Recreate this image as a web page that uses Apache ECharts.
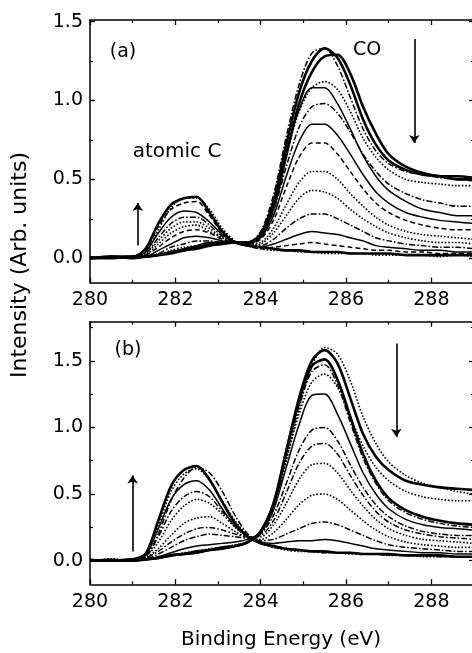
<!DOCTYPE html>
<html>
<head>
<meta charset="utf-8">
<title>C 1s XPS</title>
<script src="https://cdn.jsdelivr.net/npm/echarts@6/dist/echarts.min.js"></script>
<style>
  html, body { margin: 0; height: 100%; background: #fff; }
  #main { width: 472px; height: 653px; }
</style>
</head>
<body>
<div id="main"></div>
<script>
// binding energy grid (eV), shared by every spectrum
var energy = [280, 280.5, 281, 281.3, 281.6, 281.9, 282.2, 282.5, 282.8, 283.1, 283.4, 283.7,
  284, 284.3, 284.6, 284.9, 285.2, 285.5, 285.8, 286.1, 286.4, 286.7, 287, 287.4, 287.8, 288.2, 288.6, 289];

// panel (a): CO goes down, atomic C goes up
var a1  = [0.0, 0.01, 0.0, 0.01, 0.02, 0.04, 0.05, 0.07, 0.09, 0.1, 0.1, 0.1, 0.15, 0.36, 0.72, 1.05, 1.25, 1.33, 1.27, 1.1, 0.88, 0.72, 0.62, 0.56, 0.53, 0.52, 0.5, 0.5];
var a2  = [0.01, 0.0, 0.01, 0.01, 0.02, 0.04, 0.06, 0.07, 0.09, 0.1, 0.1, 0.1, 0.17, 0.4, 0.77, 1.1, 1.3, 1.33, 1.22, 1.02, 0.82, 0.68, 0.6, 0.55, 0.53, 0.51, 0.5, 0.49];
var a3  = [0.0, 0.0, 0.01, 0.01, 0.02, 0.03, 0.05, 0.06, 0.08, 0.09, 0.1, 0.1, 0.14, 0.32, 0.65, 0.98, 1.18, 1.28, 1.29, 1.17, 0.96, 0.79, 0.66, 0.58, 0.54, 0.52, 0.52, 0.51];
var a4  = [0.0, 0.01, 0.0, 0.01, 0.02, 0.05, 0.07, 0.08, 0.1, 0.1, 0.1, 0.1, 0.15, 0.33, 0.65, 0.93, 1.08, 1.12, 1.07, 0.93, 0.76, 0.64, 0.56, 0.5, 0.48, 0.47, 0.46, 0.46];
var a5  = [0.0, 0.0, 0.01, 0.01, 0.02, 0.04, 0.06, 0.08, 0.1, 0.1, 0.1, 0.1, 0.16, 0.35, 0.67, 0.94, 1.08, 1.08, 0.98, 0.82, 0.65, 0.52, 0.43, 0.36, 0.31, 0.29, 0.27, 0.27];
var a6  = [0.0, 0.01, 0.0, 0.01, 0.03, 0.07, 0.09, 0.11, 0.11, 0.1, 0.1, 0.09, 0.14, 0.3, 0.58, 0.83, 0.96, 0.98, 0.92, 0.8, 0.66, 0.55, 0.47, 0.41, 0.37, 0.35, 0.33, 0.33];
var a7  = [0.0, 0.0, 0.01, 0.01, 0.05, 0.09, 0.13, 0.14, 0.13, 0.11, 0.1, 0.09, 0.13, 0.27, 0.52, 0.74, 0.85, 0.85, 0.78, 0.66, 0.53, 0.42, 0.35, 0.29, 0.26, 0.24, 0.23, 0.22];
var a8  = [0.01, 0.0, 0.01, 0.02, 0.07, 0.13, 0.17, 0.18, 0.16, 0.12, 0.1, 0.09, 0.12, 0.24, 0.45, 0.64, 0.73, 0.73, 0.66, 0.55, 0.44, 0.35, 0.29, 0.24, 0.21, 0.19, 0.18, 0.18];
var a9  = [0.0, 0.01, 0.0, 0.02, 0.09, 0.16, 0.2, 0.21, 0.17, 0.13, 0.1, 0.09, 0.1, 0.19, 0.34, 0.48, 0.55, 0.55, 0.5, 0.41, 0.33, 0.26, 0.21, 0.17, 0.15, 0.14, 0.13, 0.12];
var a10 = [0.0, 0.0, 0.01, 0.03, 0.11, 0.19, 0.23, 0.23, 0.19, 0.13, 0.1, 0.08, 0.09, 0.16, 0.27, 0.38, 0.43, 0.42, 0.38, 0.31, 0.25, 0.2, 0.16, 0.13, 0.11, 0.1, 0.1, 0.09];
var a11 = [0.01, 0.0, 0.01, 0.03, 0.13, 0.22, 0.26, 0.26, 0.21, 0.14, 0.1, 0.08, 0.08, 0.12, 0.19, 0.25, 0.28, 0.28, 0.25, 0.21, 0.17, 0.13, 0.11, 0.09, 0.08, 0.07, 0.07, 0.06];
var a12 = [0.0, 0.01, 0.0, 0.04, 0.16, 0.26, 0.3, 0.29, 0.23, 0.15, 0.1, 0.08, 0.07, 0.09, 0.12, 0.15, 0.17, 0.16, 0.15, 0.13, 0.11, 0.08, 0.07, 0.06, 0.05, 0.05, 0.04, 0.04];
var a13 = [0.0, 0.0, 0.01, 0.05, 0.2, 0.31, 0.35, 0.36, 0.27, 0.16, 0.1, 0.08, 0.06, 0.07, 0.08, 0.09, 0.1, 0.09, 0.08, 0.07, 0.06, 0.05, 0.05, 0.04, 0.04, 0.03, 0.03, 0.03];
var a14 = [0.0, 0.01, 0.01, 0.06, 0.22, 0.34, 0.38, 0.39, 0.29, 0.17, 0.1, 0.08, 0.07, 0.06, 0.05, 0.05, 0.04, 0.04, 0.04, 0.03, 0.03, 0.03, 0.03, 0.02, 0.02, 0.02, 0.02, 0.02];
var a15 = [0.01, 0.0, 0.01, 0.04, 0.18, 0.32, 0.38, 0.38, 0.31, 0.19, 0.11, 0.08, 0.06, 0.05, 0.05, 0.04, 0.04, 0.03, 0.03, 0.03, 0.03, 0.02, 0.02, 0.02, 0.02, 0.01, 0.02, 0.01];

// panel (b)
var b1  = [0.0, 0.0, 0.0, 0.01, 0.02, 0.04, 0.05, 0.06, 0.08, 0.09, 0.11, 0.14, 0.22, 0.42, 0.82, 1.22, 1.5, 1.58, 1.48, 1.22, 0.95, 0.78, 0.68, 0.6, 0.57, 0.55, 0.54, 0.53];
var b2  = [0.0, 0.01, 0.0, 0.01, 0.02, 0.04, 0.05, 0.06, 0.08, 0.09, 0.11, 0.14, 0.2, 0.38, 0.75, 1.14, 1.46, 1.6, 1.55, 1.35, 1.08, 0.88, 0.74, 0.64, 0.58, 0.55, 0.52, 0.5];
var b3  = [0.0, 0.0, 0.01, 0.01, 0.02, 0.04, 0.05, 0.07, 0.08, 0.1, 0.11, 0.14, 0.22, 0.43, 0.82, 1.2, 1.46, 1.51, 1.36, 1.08, 0.8, 0.6, 0.47, 0.38, 0.33, 0.3, 0.28, 0.27];
var b4  = [0.01, 0.0, 0.0, 0.01, 0.02, 0.04, 0.05, 0.06, 0.08, 0.09, 0.11, 0.14, 0.22, 0.42, 0.8, 1.16, 1.42, 1.47, 1.32, 1.04, 0.77, 0.58, 0.45, 0.36, 0.31, 0.28, 0.26, 0.25];
var b5  = [0.0, 0.01, 0.0, 0.01, 0.02, 0.04, 0.06, 0.07, 0.09, 0.1, 0.12, 0.14, 0.21, 0.4, 0.76, 1.1, 1.34, 1.4, 1.3, 1.08, 0.86, 0.7, 0.6, 0.52, 0.48, 0.46, 0.45, 0.45];
var b6  = [0.0, 0.0, 0.0, 0.01, 0.03, 0.06, 0.09, 0.11, 0.12, 0.13, 0.14, 0.16, 0.21, 0.38, 0.7, 1.02, 1.24, 1.25, 1.1, 0.88, 0.66, 0.5, 0.39, 0.31, 0.27, 0.25, 0.24, 0.23];
var b7  = [0.0, 0.01, 0.0, 0.01, 0.05, 0.1, 0.15, 0.18, 0.2, 0.19, 0.18, 0.17, 0.2, 0.34, 0.58, 0.83, 0.98, 1.0, 0.9, 0.72, 0.55, 0.42, 0.33, 0.26, 0.22, 0.2, 0.19, 0.19];
var b8  = [0.0, 0.0, 0.01, 0.02, 0.07, 0.14, 0.2, 0.24, 0.25, 0.23, 0.2, 0.18, 0.19, 0.3, 0.51, 0.73, 0.86, 0.88, 0.8, 0.64, 0.49, 0.37, 0.29, 0.23, 0.2, 0.18, 0.17, 0.16];
var b9  = [0.01, 0.0, 0.0, 0.02, 0.09, 0.19, 0.28, 0.32, 0.33, 0.28, 0.22, 0.18, 0.18, 0.27, 0.43, 0.61, 0.72, 0.73, 0.66, 0.53, 0.41, 0.31, 0.24, 0.19, 0.16, 0.15, 0.14, 0.13];
var b10 = [0.0, 0.01, 0.0, 0.03, 0.14, 0.3, 0.41, 0.46, 0.43, 0.35, 0.25, 0.18, 0.16, 0.21, 0.31, 0.42, 0.49, 0.5, 0.46, 0.38, 0.3, 0.23, 0.18, 0.14, 0.12, 0.11, 0.1, 0.1];
var b11 = [0.0, 0.0, 0.01, 0.03, 0.18, 0.37, 0.48, 0.52, 0.48, 0.37, 0.26, 0.18, 0.15, 0.16, 0.2, 0.24, 0.28, 0.29, 0.27, 0.23, 0.19, 0.15, 0.12, 0.1, 0.09, 0.08, 0.07, 0.07];
var b12 = [0.0, 0.01, 0.0, 0.04, 0.24, 0.46, 0.57, 0.6, 0.53, 0.39, 0.26, 0.18, 0.14, 0.13, 0.14, 0.15, 0.15, 0.16, 0.15, 0.13, 0.11, 0.09, 0.08, 0.07, 0.06, 0.06, 0.05, 0.05];
var b13 = [0.0, 0.0, 0.01, 0.05, 0.3, 0.56, 0.68, 0.71, 0.61, 0.44, 0.28, 0.18, 0.13, 0.11, 0.09, 0.08, 0.07, 0.07, 0.06, 0.06, 0.05, 0.05, 0.05, 0.04, 0.04, 0.04, 0.03, 0.03];
var b14 = [0.01, 0.0, 0.0, 0.03, 0.2, 0.45, 0.62, 0.7, 0.66, 0.52, 0.34, 0.2, 0.14, 0.1, 0.09, 0.08, 0.07, 0.06, 0.06, 0.06, 0.05, 0.05, 0.04, 0.04, 0.04, 0.03, 0.03, 0.03];
var b15 = [0.0, 0.01, 0.0, 0.04, 0.26, 0.52, 0.65, 0.69, 0.6, 0.45, 0.3, 0.19, 0.13, 0.1, 0.08, 0.07, 0.07, 0.06, 0.06, 0.05, 0.05, 0.05, 0.04, 0.04, 0.03, 0.03, 0.03, 0.03];

var spectraA = [a1, a2, a3, a4, a5, a6, a7, a8, a9, a10, a11, a12, a13, a14, a15];
var spectraB = [b1, b2, b3, b4, b5, b6, b7, b8, b9, b10, b11, b12, b13, b14, b15];
var kindsA = ['thick', 'dashdot', 'thick', 'dotted', 'solid', 'dashdot', 'solid', 'dashed', 'dotted', 'dotted', 'dashdot', 'solid', 'dashed', 'thick', 'dotted'];
var kindsB = ['thick', 'dotted', 'thick', 'dashdot', 'dotted', 'solid', 'dashdot', 'dashdot', 'dotted', 'dotted', 'dashdot', 'solid', 'thick', 'dashdot', 'dotted'];

// arrows: [energy, from, to]
var arrowsA = [[281.12, 0.08, 0.35], [287.6, 1.39, 0.73]];
var arrowsB = [[281.0, 0.07, 0.64], [287.18, 1.63, 0.93]];

var xMajor = [280, 282, 284, 286, 288];
var xMinor = [281, 283, 285, 287, 289];
var yMajor = [0, 0.5, 1.0, 1.5];
var yMinorA = [0.25, 0.75, 1.25];
var yMinorB = [0.25, 0.75, 1.25, 1.75];

var FONT = '"DejaVu Sans", sans-serif';

function lineStyleOf(kind) {
    if (kind == 'thick') return { color: '#000', width: 2.6, type: 'solid' };
    if (kind == 'dotted') return { color: '#000', width: 1.6, type: [1.6, 1.8] };
    if (kind == 'dashed') return { color: '#000', width: 1.5, type: [5, 3] };
    if (kind == 'dashdot') return { color: '#000', width: 1.5, type: [6, 2, 1.6, 2] };
    return { color: '#000', width: 1.5, type: 'solid' };
}

function makeSeries(spectra, kinds, axisIdx, arrows) {
    return spectra.map(function (ys, i) {
        var s = {
            type: 'line',
            xAxisIndex: axisIdx,
            yAxisIndex: axisIdx,
            data: energy.map(function (e, k) { return [e, ys[k]]; }),
            showSymbol: false,
            smooth: 0.3,
            silent: true,
            lineStyle: lineStyleOf(kinds[i])
        };
        if (i == 0) {
            s.markLine = {
                silent: true,
                symbol: ['none', 'arrow'],
                symbolSize: 8,
                label: { show: false },
                lineStyle: { color: '#000', width: 1.6, type: 'solid' },
                data: arrows.map(function (a) {
                    return [{ coord: [a[0], a[1]] }, { coord: [a[0], a[2]] }];
                })
            };
        }
        return s;
    });
}

var frameLine = { show: true, onZero: false, lineStyle: { color: '#000', width: 1.5 } };

function xAxesFor(g) {
    var base = { type: 'value', gridIndex: g, min: 280, max: 289, splitLine: { show: false } };
    var major = { inside: true, length: 5, customValues: xMajor, lineStyle: { color: '#000', width: 1.3 } };
    var minor = { inside: true, length: 3, customValues: xMinor, lineStyle: { color: '#000', width: 1.2 } };
    return [
        Object.assign({}, base, { position: 'bottom', axisLine: frameLine, axisTick: major,
            axisLabel: { customValues: xMajor, margin: 8, color: '#000', fontFamily: FONT, fontSize: 19 } }),
        Object.assign({}, base, { position: 'top', axisLine: frameLine, axisTick: major, axisLabel: { show: false } }),
        Object.assign({}, base, { position: 'bottom', axisLine: { show: false, onZero: false }, axisTick: minor, axisLabel: { show: false } }),
        Object.assign({}, base, { position: 'top', axisLine: { show: false, onZero: false }, axisTick: minor, axisLabel: { show: false } })
    ];
}

function yAxesFor(g, lo, hi, yMinor) {
    var base = { type: 'value', gridIndex: g, min: lo, max: hi, splitLine: { show: false } };
    var major = { inside: true, length: 5, customValues: yMajor, lineStyle: { color: '#000', width: 1.3 } };
    var minor = { inside: true, length: 3, customValues: yMinor, lineStyle: { color: '#000', width: 1.2 } };
    return [
        Object.assign({}, base, { position: 'left', axisLine: frameLine, axisTick: major,
            axisLabel: { customValues: yMajor, margin: 7, color: '#000', fontFamily: FONT, fontSize: 19,
                formatter: function (v) { return v.toFixed(1); } } }),
        Object.assign({}, base, { position: 'right', axisLine: frameLine, axisTick: major, axisLabel: { show: false } }),
        Object.assign({}, base, { position: 'left', axisLine: { show: false, onZero: false }, axisTick: minor, axisLabel: { show: false } }),
        Object.assign({}, base, { position: 'right', axisLine: { show: false, onZero: false }, axisTick: minor, axisLabel: { show: false } })
    ];
}

function label(text, x, y, size, rot) {
    return {
        type: 'text', x: x, y: y, rotation: rot || 0, silent: true,
        style: { text: text, fill: '#000', font: size + 'px ' + FONT,
                 align: 'center', verticalAlign: 'middle', textAlign: 'center', textVerticalAlign: 'middle' }
    };
}

var chart = echarts.init(document.getElementById('main'), null, { renderer: 'canvas' });
var option = {
    animation: false,
    backgroundColor: '#fff',
    grid: [
        { left: 90, top: 20, width: 384, height: 262.7, outerBoundsMode: 'none', containLabel: false },
        { left: 90, top: 321.7, width: 384, height: 262.6, outerBoundsMode: 'none', containLabel: false }
    ],
    xAxis: xAxesFor(0).concat(xAxesFor(1)),
    yAxis: yAxesFor(0, -0.155, 1.51, yMinorA).concat(yAxesFor(1, -0.177, 1.793, yMinorB)),
    series: makeSeries(spectraA, kindsA, 0, arrowsA).concat(makeSeries(spectraB, kindsB, 4, arrowsB)),
    graphic: [
        label('(a)', 123, 52, 19),
        label('CO', 367, 50, 19),
        label('atomic C', 177, 152, 20),
        label('(b)', 128, 350, 19),
        label('Binding Energy (eV)', 281, 640, 20),
        label('Intensity (Arb. units)', 20, 265, 22, Math.PI / 2)
    ]
};
chart.setOption(option);
</script>
</body>
</html>
